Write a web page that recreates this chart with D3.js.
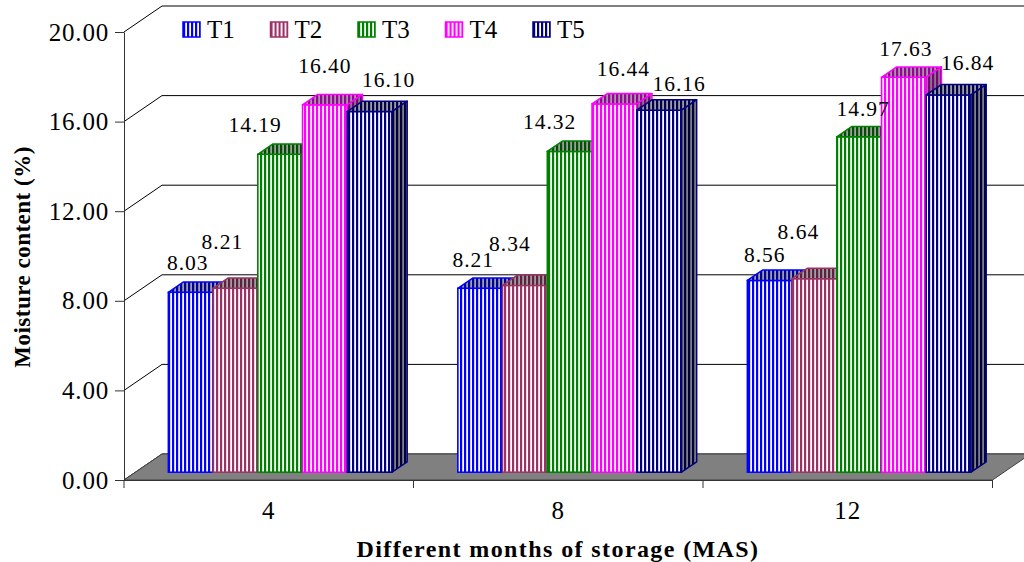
<!DOCTYPE html>
<html>
<head>
<meta charset="utf-8">
<script src="https://cdn.jsdelivr.net/npm/d3@7"></script>
<style>
  html, body { margin: 0; padding: 0; background: #fff; }
  svg { display: block; }
  text { font-family: "Liberation Serif", "Times New Roman", serif; fill: #000; }
</style>
</head>
<body>
<svg id="chart" width="1024" height="562"></svg>
<script>
// Moisture content (%) of stored material, by treatment and months of storage
const categories = ["4", "8", "12"];
const seriesNames = ["T1", "T2", "T3", "T4", "T5"];
const T1 = [8.03, 8.21, 8.56];
const T2 = [8.21, 8.34, 8.64];
const T3 = [14.19, 14.32, 14.97];
const T4 = [16.40, 16.44, 17.63];
const T5 = [16.10, 16.16, 16.84];
const yTicks = [0, 4, 8, 12, 16, 20];
const yTitle = "Moisture content (%)";
const xTitle = "Different months of storage (MAS)";

const seriesValues = [T1, T2, T3, T4, T5];
const seriesColors = ["#0000ff", "#993366", "#008000", "#ff00ff", "#000080"];

// hand-placed data label nudges (series x category), relative to the bar's top-back centre
const labelNudge = {
  T1: [[-3, -12], [-7, -11], [-5, -8]],
  T2: [[-13, -29], [-15, -24], [-16, -29]],
  T3: [[-25, -12], [-20, -12], [4, -10]],
  T4: [[0, -21], [9, -18], [2, -11]],
  T5: [[19, -14], [20, -9], [19, -15]]
};

const svg = d3.select("#chart");

// front plane scales
const y = d3.scaleLinear().domain([0, 20]).range([480, 32]);
const x = d3.scaleBand().domain(categories).range([124, 992.5]).padding(0);
const xs = d3.scaleBand().domain(seriesNames).range([0, x.bandwidth()])
  .paddingInner(0).paddingOuter(0.736);

// depth of the 3-D box and the bars' slot inside it
const depth = { dx: 38, dy: -26 };
const barFront = 0.3, barDepth = 0.4;
const fx = depth.dx * barFront, fy = depth.dy * barFront;
const bdx = depth.dx * barDepth, bdy = depth.dy * barDepth;

// stripe patterns
const defs = svg.append("defs");
seriesNames.forEach((name, i) => {
  const p = defs.append("pattern")
    .attr("id", "stripe-" + name)
    .attr("patternUnits", "userSpaceOnUse")
    .attr("width", 4).attr("height", 4);
  p.append("rect").attr("width", 4).attr("height", 4).attr("fill", "#fff");
  p.append("rect").attr("width", 2.2).attr("height", 4).attr("fill", seriesColors[i]);
});

const x0 = x.range()[0], x1 = x.range()[1];

// gridlines on the back wall, with the connectors to the axis
const grid = svg.append("g");
yTicks.forEach(t => {
  const yy = y(t);
  grid.append("line")
    .attr("x1", x0 + depth.dx).attr("y1", yy + depth.dy)
    .attr("x2", x1 + depth.dx).attr("y2", yy + depth.dy)
    .attr("stroke", "#000").attr("stroke-width", 1);
  grid.append("line")
    .attr("x1", x0).attr("y1", yy)
    .attr("x2", x0 + depth.dx).attr("y2", yy + depth.dy)
    .attr("stroke", "#000").attr("stroke-width", 1);
});

// floor
const y0 = y(0);
svg.append("path")
  .attr("d", `M${x0},${y0} L${x1},${y0} L${x1 + depth.dx},${y0 + depth.dy} L${x0 + depth.dx},${y0 + depth.dy} Z`)
  .attr("fill", "#808080").attr("stroke", "#404040").attr("stroke-width", 1);

// bars
const bars = svg.append("g");
categories.forEach((cat, ci) => {
  seriesNames.forEach((name, si) => {
    const v = seriesValues[si][ci];
    const col = seriesColors[si];
    const L = x(cat) + xs(name) + fx;
    const R = L + xs.bandwidth();
    const B = y(0) + fy;
    const T = y(v) + fy;
    const g = bars.append("g");
    const fill = `url(#stripe-${name})`;
    // front
    g.append("rect").attr("x", L).attr("y", T).attr("width", R - L).attr("height", B - T)
      .attr("fill", fill).attr("stroke", col).attr("stroke-width", 1.5);
    // top
    const topD = `M${L},${T} L${L + bdx},${T + bdy} L${R + bdx},${T + bdy} L${R},${T} Z`;
    g.append("path").attr("d", topD).attr("fill", fill);
    g.append("path").attr("d", topD).attr("fill", "rgba(0,0,0,0.38)")
      .attr("stroke", col).attr("stroke-width", 1.5).attr("stroke-linejoin", "round");
    // right side
    const sideD = `M${R},${T} L${R + bdx},${T + bdy} L${R + bdx},${B + bdy} L${R},${B} Z`;
    g.append("path").attr("d", sideD).attr("fill", fill);
    g.append("path").attr("d", sideD).attr("fill", "rgba(0,0,0,0.5)")
      .attr("stroke", col).attr("stroke-width", 1.5).attr("stroke-linejoin", "round");
  });
});

// data labels
const labels = svg.append("g").attr("font-size", 21.5).attr("letter-spacing", 1)
  .attr("text-anchor", "middle");
categories.forEach((cat, ci) => {
  seriesNames.forEach((name, si) => {
    const v = seriesValues[si][ci];
    const cx = x(cat) + xs(name) + fx + xs.bandwidth() / 2;
    const ty = y(v) + fy + bdy;
    const [ndx, ndy] = labelNudge[name][ci];
    labels.append("text").attr("x", cx + ndx).attr("y", ty + ndy).text(v.toFixed(2));
  });
});

// y axis
const yAxis = svg.append("g").attr("transform", `translate(${x0},0)`)
  .call(d3.axisLeft(y).tickValues(yTicks).tickFormat(d3.format(".2f"))
    .tickSize(9).tickSizeOuter(0).tickPadding(6));
yAxis.select(".domain").attr("stroke", "#333");
yAxis.selectAll(".tick line").attr("stroke", "#333");
yAxis.selectAll(".tick text").attr("font-family", "Liberation Serif, Times New Roman, serif")
  .attr("font-size", 25).attr("letter-spacing", 0.8).attr("fill", "#000");

// x axis: line, boundary ticks and category labels
const xAxis = svg.append("g").attr("transform", `translate(0,${y0})`)
  .call(d3.axisBottom(x).tickSize(0).tickSizeOuter(0).tickPadding(21));
xAxis.select(".domain").attr("stroke", "#333");
xAxis.selectAll(".tick text").attr("font-family", "Liberation Serif, Times New Roman, serif")
  .attr("font-size", 25).attr("letter-spacing", 1).attr("fill", "#000");
const bounds = categories.map(c => x(c)).concat([x1]);
xAxis.selectAll(".bound").data(bounds).join("line").attr("class", "bound")
  .attr("x1", d => d).attr("x2", d => d).attr("y1", 0).attr("y2", 8)
  .attr("stroke", "#333");

// axis titles
svg.append("text").attr("x", 558).attr("y", 557).attr("text-anchor", "middle")
  .attr("font-size", 24).attr("font-weight", "bold").attr("letter-spacing", 1.4)
  .text(xTitle);
svg.append("text").attr("transform", "translate(30,257) rotate(-90)").attr("text-anchor", "middle")
  .attr("font-size", 23).attr("font-weight", "bold").attr("letter-spacing", 0.5)
  .text(yTitle);

// legend
const legend = svg.append("g").attr("transform", "translate(183,22)");
seriesNames.forEach((name, i) => {
  const g = legend.append("g").attr("transform", `translate(${i * 87.5},0)`);
  g.append("rect").attr("width", 17).attr("height", 15)
    .attr("fill", `url(#stripe-${name})`).attr("stroke", seriesColors[i]).attr("stroke-width", 1.5);
  g.append("text").attr("x", 24).attr("y", 15.5).attr("font-size", 25).text(name);
});
</script>
</body>
</html>
